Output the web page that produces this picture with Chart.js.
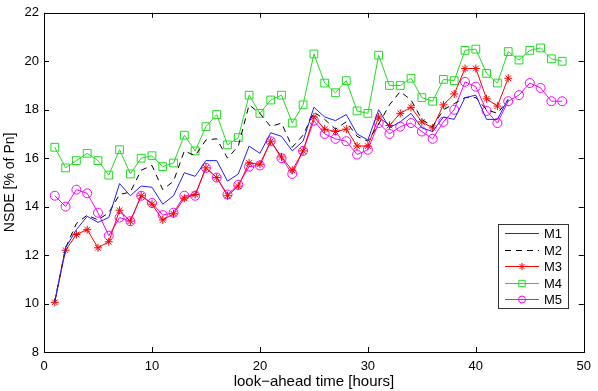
<!DOCTYPE html>
<html>
<head>
<meta charset="utf-8">
<script src="https://cdn.jsdelivr.net/npm/chart.js@4/dist/chart.umd.min.js"></script>
<style>
  html, body { margin: 0; padding: 0; background: #fff; }
  #wrap { width: 598px; height: 391px; position: relative; }
</style>
</head>
<body>
<div id="wrap"><canvas id="nsde-chart"></canvas></div>
<script>
// look-ahead hours
var hoursShort = [];
for (var h = 1; h <= 43; h++) hoursShort.push(h);
var hoursLong = [];
for (var h2 = 1; h2 <= 48; h2++) hoursLong.push(h2);

var seriesNames = ["M1", "M2", "M3", "M4", "M5"];

var m1 = [10.1, 12.3, 13.05, 13.6, 13.35, 13.55, 14.95, 14.45, 14.85, 14.8,
  14.1, 14.45, 15.4, 15.25, 15.9, 15.9, 15.05, 15.35, 16.5, 16.2,
  17.05, 16.9, 16.3, 16.7, 18.1, 17.7, 17.55, 17.8, 17.0, 16.75,
  18.0, 17.25, 17.5, 17.85, 17.25, 17.1, 17.7, 17.6, 18.5, 18.6,
  17.6, 17.6, 18.45];
var m2 = [10.1, 12.3, 13.3, 13.65, 13.45, 13.75, 14.5, 14.6, 15.5, 15.7,
  14.7, 15.05, 16.3, 16.1, 16.75, 16.8, 16.0, 16.5, 18.2, 17.85,
  17.3, 17.45, 16.45, 16.95, 17.9, 17.6, 17.2, 17.5, 16.9, 16.7,
  17.4, 18.2, 18.75, 18.4, 17.6, 17.3, 18.0, 18.25, 18.5, 18.5,
  18.0, 17.85, 18.4];
var m3 = [10.05, 12.2, 12.85, 13.05, 12.3, 12.55, 13.85, 13.4, 14.45, 14.1,
  13.45, 13.7, 14.35, 14.5, 15.6, 15.2, 14.45, 14.85, 15.8, 15.75,
  16.7, 16.05, 15.5, 16.3, 17.7, 17.2, 17.1, 17.2, 16.5, 16.5,
  17.7, 17.35, 17.85, 18.1, 17.5, 17.25, 18.2, 18.65, 19.7, 19.7,
  18.45, 18.15, 19.3];
var m4 = [16.45, 15.6, 15.9, 16.2, 15.9, 15.3, 16.35, 15.35, 16.0, 16.1,
  15.65, 15.8, 16.95, 16.3, 17.3, 17.8, 16.55, 16.85, 18.6, 17.85,
  18.4, 18.6, 17.45, 18.2, 20.3, 19.1, 18.7, 19.2, 17.95, 17.85,
  20.25, 19.0, 19.0, 19.3, 18.5, 18.35, 19.25, 19.2, 20.45, 20.5,
  19.5, 19.1, 20.4, 20.05, 20.45, 20.55, 20.1, 20.0];
var m5 = [14.45, 14.0, 14.7, 14.55, 13.75, 12.8, 13.55, 13.4, 14.45, 14.15,
  13.65, 13.75, 14.45, 14.45, 15.6, 15.2, 14.5, 14.9, 15.65, 15.7,
  16.7, 16.0, 15.35, 16.3, 17.55, 17.0, 16.8, 16.7, 16.15, 16.35,
  17.45, 17.0, 17.3, 17.45, 17.1, 16.8, 17.5, 18.0, 19.15, 18.95,
  17.95, 17.45, 18.35, 18.6, 19.1, 18.9, 18.35, 18.35];

var xTicks = [0, 10, 20, 30, 40, 50];
var yTicks = [8, 10, 12, 14, 16, 18, 20, 22];

var FONT = "'Liberation Sans', Arial, Helvetica, sans-serif";

function toPoints(xs, ys) {
  return ys.map(function (v, i) { return { x: xs[i], y: v }; });
}

// MATLAB style box with inward ticks
var boxPlugin = {
  id: "boxPlugin",
  afterDatasetsDraw: function (chart) {
    var ctx = chart.ctx;
    var a = chart.chartArea;
    var xs = chart.scales.x, ys = chart.scales.y;
    var len = 5;
    ctx.save();
    ctx.strokeStyle = "#000";
    ctx.lineWidth = 1;
    ctx.beginPath();
    xTicks.forEach(function (t) {
      var px = Math.round(xs.getPixelForValue(t)) + 0.5;
      ctx.moveTo(px, a.bottom); ctx.lineTo(px, a.bottom - len);
      ctx.moveTo(px, a.top); ctx.lineTo(px, a.top + len);
    });
    yTicks.forEach(function (t) {
      var py = Math.round(ys.getPixelForValue(t)) + 0.5;
      ctx.moveTo(a.left, py); ctx.lineTo(a.left + len, py);
      ctx.moveTo(a.right, py); ctx.lineTo(a.right - len, py);
    });
    ctx.stroke();
    ctx.strokeRect(Math.round(a.left) + 0.5, Math.round(a.top) + 0.5,
      Math.round(a.right - a.left), Math.round(a.bottom - a.top));
    ctx.restore();
  }
};

// legend box in the lower right of the axes
var legendPlugin = {
  id: "legendPlugin",
  afterDraw: function (chart) {
    var ctx = chart.ctx;
    var bx = 498, by = 224, bw = 70, bh = 84;
    ctx.save();
    ctx.fillStyle = "#fff";
    ctx.fillRect(bx, by, bw, bh);
    ctx.strokeStyle = "#333";
    ctx.lineWidth = 1;
    ctx.strokeRect(bx + 0.5, by + 0.5, bw, bh);
    chart.data.datasets.forEach(function (ds, i) {
      var y = Math.round(by + 9 + i * 16.5) + 0.5;
      ctx.strokeStyle = ds.borderColor;
      ctx.lineWidth = 1;
      ctx.setLineDash(ds.borderDash || []);
      ctx.beginPath();
      ctx.moveTo(505, y);
      ctx.lineTo(539, y);
      ctx.stroke();
      ctx.setLineDash([]);
      if (ds.pointRadius > 0) {
        ctx.strokeStyle = ds.borderColor;
        ctx.fillStyle = ds.pointBackgroundColor;
        Chart.helpers.drawPoint(ctx, {
          pointStyle: ds.pointStyle,
          radius: ds.legendRadius,
          borderWidth: 1,
          rotation: 0
        }, 522, y);
      }
      ctx.fillStyle = "#000";
      ctx.font = "13px " + FONT;
      ctx.textBaseline = "middle";
      ctx.textAlign = "left";
      ctx.fillText(ds.label, 544, y + 1);
    });
    ctx.restore();
  }
};

var datasets = [
  { label: seriesNames[0], data: toPoints(hoursShort, m1), borderColor: "#2020ff",
    pointRadius: 0, pointStyle: "line", pointBackgroundColor: "transparent" },
  { label: seriesNames[1], data: toPoints(hoursShort, m2), borderColor: "#000000",
    borderDash: [6, 5], pointRadius: 0, pointStyle: "line", pointBackgroundColor: "transparent" },
  { label: seriesNames[2], data: toPoints(hoursShort, m3), borderColor: "#ff0000",
    pointRadius: 4, legendRadius: 3.5, pointStyle: "star", pointBackgroundColor: "#ff0000" },
  { label: seriesNames[3], data: toPoints(hoursLong, m4), borderColor: "#22dd22",
    pointRadius: 5.5, legendRadius: 4.5, pointStyle: "rect", pointBackgroundColor: "transparent" },
  { label: seriesNames[4], data: toPoints(hoursLong, m5), borderColor: "#ff00ff",
    pointRadius: 4.5, legendRadius: 3.5, pointStyle: "circle", pointBackgroundColor: "transparent" }
];
datasets.forEach(function (d) {
  d.borderWidth = 1;
  d.pointBorderColor = d.borderColor;
  d.pointBorderWidth = 1;
  d.tension = 0;
  d.fill = false;
});

new Chart(document.getElementById("nsde-chart"), {
  type: "line",
  data: { datasets: datasets },
  options: {
    responsive: true,
    maintainAspectRatio: false,
    animation: false,
    devicePixelRatio: 1,
    layout: { padding: { top: 7, right: 11, left: 2, bottom: 0 } },
    plugins: {
      legend: { display: false },
      tooltip: { enabled: false }
    },
    scales: {
      x: {
        type: "linear",
        min: 0, max: 50,
        afterFit: function (s) { s.height = 39; },
        afterBuildTicks: function (s) { s.ticks = xTicks.map(function (v) { return { value: v }; }); },
        grid: { display: false, drawTicks: false },
        border: { display: false },
        ticks: { color: "#000", font: { family: FONT, size: 13 }, padding: 7, maxRotation: 0 },
        title: { display: true, text: "look\u2212ahead time [hours]", color: "#000",
          font: { family: FONT, size: 15 }, padding: { top: 0, bottom: 0 } }
      },
      y: {
        min: 8, max: 22,
        afterFit: function (s) { s.width = 42; },
        afterBuildTicks: function (s) { s.ticks = yTicks.map(function (v) { return { value: v }; }); },
        grid: { display: false, drawTicks: false },
        border: { display: false },
        ticks: { color: "#000", font: { family: FONT, size: 13 }, padding: 5 },
        title: { display: true, text: "NSDE [% of Pn]", color: "#000",
          font: { family: FONT, size: 14 }, padding: { top: 0, bottom: 0 } }
      }
    }
  },
  plugins: [boxPlugin, legendPlugin]
});
</script>
</body>
</html>
